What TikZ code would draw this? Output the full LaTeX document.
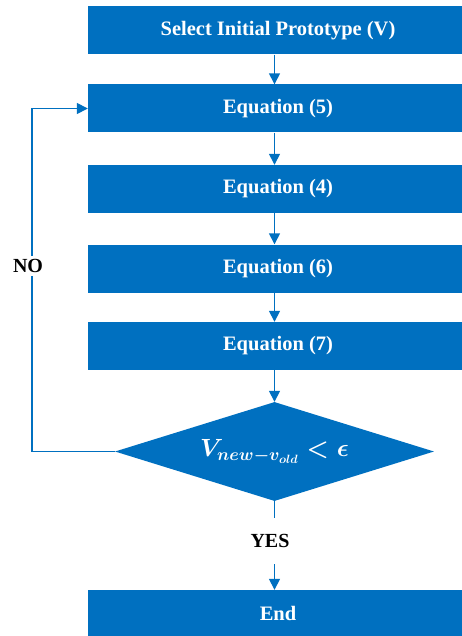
\documentclass[tikz,border=0pt]{standalone}
\usepackage{fontspec}
\setmainfont{Liberation Serif}
\usetikzlibrary{arrows.meta,shapes.geometric}
\definecolor{fblue}{HTML}{0070C0}
\begin{document}
\begin{tikzpicture}[x=1pt,y=-1pt,
  box/.style={rectangle,fill=fblue,minimum width=380pt,minimum height=48pt,inner sep=0pt,
    text=white,font=\fontsize{20.5}{24}\selectfont\bfseries},
  decision/.style={diamond,aspect=3.22,fill=fblue,minimum width=319pt,minimum height=99pt,inner sep=0pt,
    text=white,font=\fontsize{24}{28}\selectfont\boldmath},
  lbl/.style={font=\fontsize{20}{24}\selectfont\bfseries,text=black,inner sep=1pt},
  conn/.style={draw=fblue,line width=1.5pt},
  arr/.style={conn,-{Triangle[length=11pt,width=11pt]}}]
\useasboundingbox (0,0) rectangle (462,636);
\clip (0,0) rectangle (462,636);
\node[box] (s) at (278,30.5) {Select Initial Prototype (V)};
\node[box] (e5) at (278,108.5) {Equation (5)};
\node[box] (e4) at (278,189) {Equation (4)};
\node[box] (e6) at (278,268.5) {Equation (6)};
\node[box] (e7) at (278,346) {Equation (7)};
\node[decision] (dd) at (274.5,451.5) {$V_{new-v_{old}} \mathrel{<} \epsilon$};
\node[box,minimum height=46pt] (fin) at (278,613) {End};
\node[lbl,minimum height=46pt] (yes) at (270,541) {YES};
\coordinate (c1) at (32,451.5);
\coordinate (c2) at (32,108.5);
\draw[arr] (s.south -| dd.north) -- (e5.north -| dd.north);
\draw[arr] (e5.south -| dd.north) -- (e4.north -| dd.north);
\draw[arr] (e4.south -| dd.north) -- (e6.north -| dd.north);
\draw[arr] (e6.south -| dd.north) -- (e7.north -| dd.north);
\draw[arr] (e7.south -| dd.north) -- (dd.north);
\draw[conn] (dd.south) -- (dd.south |- yes.north);
\draw[arr] (dd.south |- yes.south) -- (dd.south |- fin.north);
\draw[arr] (dd.west) -- (c1) -- (c2) -- (e5.west);
\node[lbl,fill=white,inner sep=3pt] (no) at (28,266) {NO};
\end{tikzpicture}
\end{document}
